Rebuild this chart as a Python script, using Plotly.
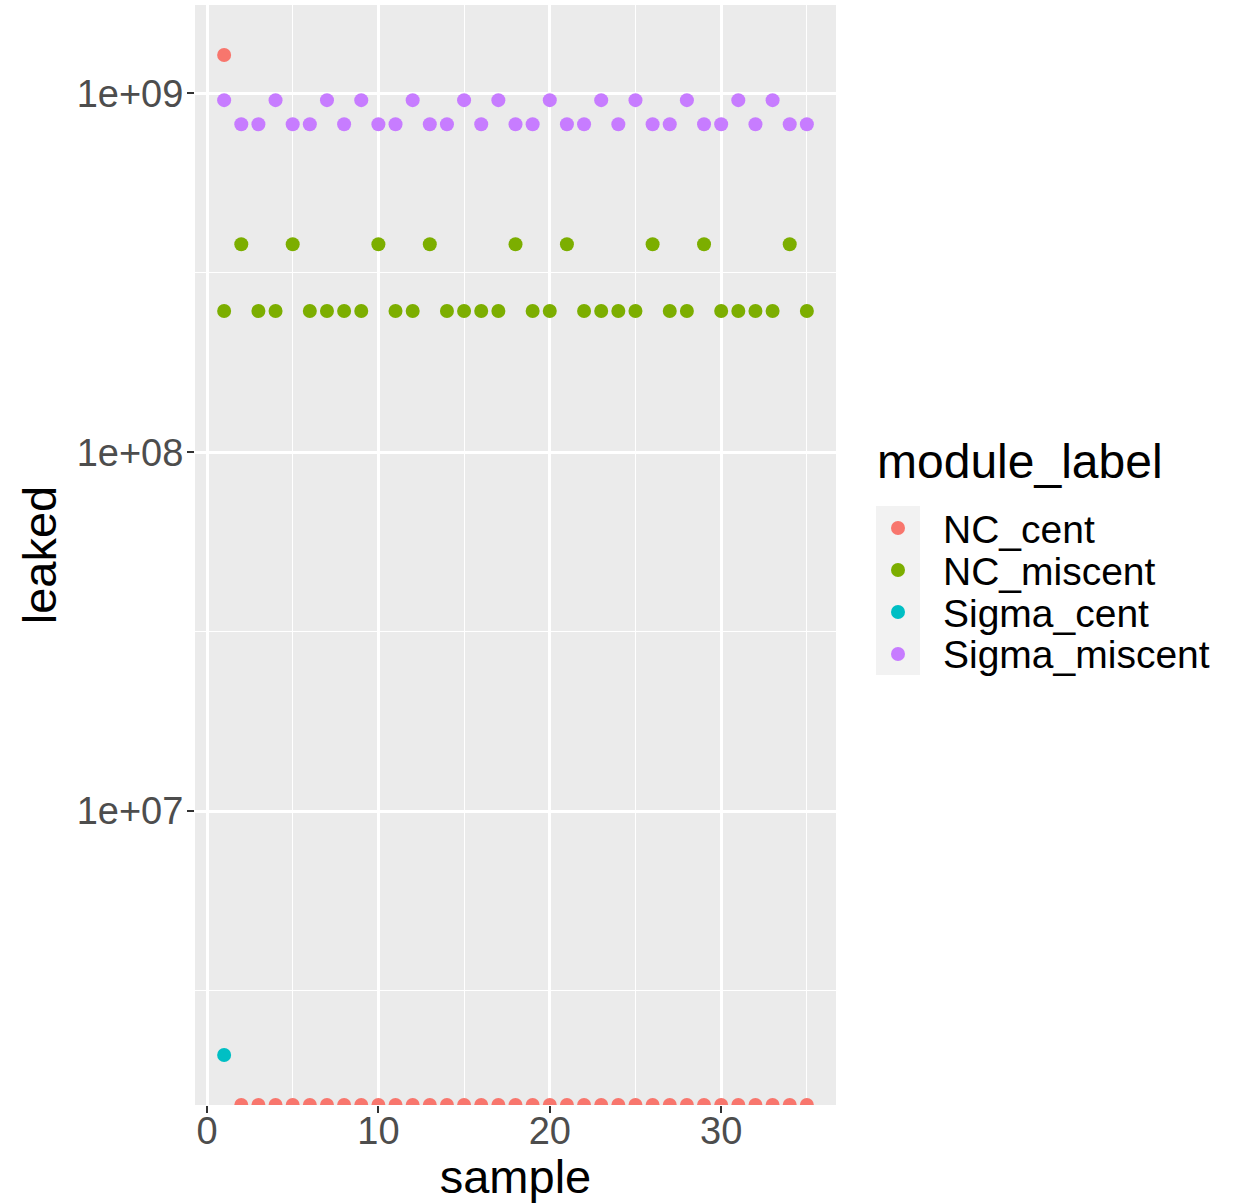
import numpy as np
import plotly.graph_objects as go

# ---------------- data ----------------
samples = list(range(1, 36))
series_names = ["NC_cent", "NC_miscent", "Sigma_cent", "Sigma_miscent"]
series_colors = ["#F8766D", "#7CAE00", "#00BFC4", "#C77CFF"]

nc_cent_x = samples
nc_cent = [1.28e9] + [0] * 34          # zeros -> -Inf on log scale (drawn at panel edge)

nc_miscent_x = samples
nc_miscent = [2.475e8, 3.80e8, 2.475e8, 2.475e8, 3.80e8, 2.475e8, 2.475e8, 2.475e8, 2.475e8, 3.80e8,
              2.475e8, 2.475e8, 3.80e8, 2.475e8, 2.475e8, 2.475e8, 2.475e8, 3.80e8, 2.475e8, 2.475e8,
              3.80e8, 2.475e8, 2.475e8, 2.475e8, 2.475e8, 3.80e8, 2.475e8, 2.475e8, 3.80e8, 2.475e8,
              2.475e8, 2.475e8, 2.475e8, 3.80e8, 2.475e8]

sigma_cent_x = [1]
sigma_cent = [2.09e6]

sigma_miscent_x = samples
sigma_miscent = [9.58e8, 8.21e8, 8.21e8, 9.58e8, 8.21e8, 8.21e8, 9.58e8, 8.21e8, 9.58e8, 8.21e8,
                 8.21e8, 9.58e8, 8.21e8, 8.21e8, 9.58e8, 8.21e8, 9.58e8, 8.21e8, 8.21e8, 9.58e8,
                 8.21e8, 8.21e8, 9.58e8, 8.21e8, 9.58e8, 8.21e8, 8.21e8, 9.58e8, 8.21e8, 8.21e8,
                 9.58e8, 8.21e8, 9.58e8, 8.21e8, 8.21e8]

y_tickvals = [1e7, 1e8, 1e9]
y_ticktext = ["1e+07", "1e+08", "1e+09"]
x_tickvals = [0, 10, 20, 30]

xs = [nc_cent_x, nc_miscent_x, sigma_cent_x, sigma_miscent_x]
ys = [nc_cent, nc_miscent, sigma_cent, sigma_miscent]

# ---------------- scales (ggplot-like 5% expansion) ----------------
all_x = [v for s in xs for v in s]
x_lo, x_hi = min(all_x), max(all_x)
xr = x_hi - x_lo
x_range = [x_lo - 0.05 * xr, x_hi + 0.05 * xr]

pos = [v for s in ys for v in s if v > 0]
l_lo, l_hi = np.log10(min(pos)), np.log10(max(pos))
lr = l_hi - l_lo
y_range = [l_lo - 0.05 * lr, l_hi + 0.05 * lr]
y_floor = 10 ** y_range[0]   # where -Inf values are squished (like ggplot)

# minor breaks midway between majors in log space
y_minor = [10 ** (np.log10(v) - 0.5) for v in y_tickvals] + [10 ** (np.log10(y_tickvals[-1]) + 0.5)]
x_minor = [v + 5 for v in x_tickvals] + [x_tickvals[0] - 5]

FONT = "Liberation Sans, Arial, sans-serif"

fig = go.Figure()
for name, col, x, y in zip(series_names, series_colors, xs, ys):
    yy = [v if v > 0 else y_floor for v in y]
    fig.add_trace(go.Scatter(
        x=x, y=yy, mode="markers", name=name, showlegend=False,
        marker=dict(color=col, size=14, line=dict(width=0)),
        cliponaxis=True,
    ))

# ---------------- layout ----------------
W, H = 1236, 1203
ML, MR, MT, MB = 195, 400, 5, 98
PW, PH = W - ML - MR, H - MT - MB


def px(xpix):
    return (xpix - ML) / PW


def py(ypix):
    return (H - MB - ypix) / PH


fig.update_layout(
    width=W, height=H,
    margin=dict(l=ML, r=MR, t=MT, b=MB, pad=0),
    paper_bgcolor="white",
    plot_bgcolor="#EBEBEB",
    font=dict(family=FONT, color="black"),
    showlegend=False,
)

fig.update_xaxes(
    range=x_range, tickmode="array", tickvals=x_tickvals,
    ticks="outside", ticklen=7, tickwidth=2, tickcolor="#333333",
    tickfont=dict(size=38, color="#4D4D4D", family=FONT),
    ticklabelstandoff=-15,
    showgrid=True, gridcolor="white", gridwidth=2.5, zeroline=False,
    showline=False,
    minor=dict(tickmode="array", tickvals=x_minor, showgrid=True,
               gridcolor="white", gridwidth=1.2, ticklen=0),
    title=dict(text="sample", font=dict(size=47, color="black", family=FONT), standoff=5),
)
fig.update_yaxes(
    type="log", range=y_range, tickmode="array", tickvals=y_tickvals, ticktext=y_ticktext,
    ticks="outside", ticklen=7, tickwidth=2, tickcolor="#333333",
    tickfont=dict(size=38, color="#4D4D4D", family=FONT),
    ticklabelstandoff=-4,
    showgrid=True, gridcolor="white", gridwidth=2.5, zeroline=False,
    showline=False,
    minor=dict(tickmode="array", tickvals=y_minor, showgrid=True,
               gridcolor="white", gridwidth=1.2, ticklen=0),
    title=dict(text="leaked", font=dict(size=47, color="black", family=FONT), standoff=5),
)

# ---------------- manual ggplot-style legend ----------------
shapes = [dict(type="rect", xref="paper", yref="paper",
               x0=px(876), x1=px(920), y0=py(675), y1=py(506),
               fillcolor="#F2F2F2", line=dict(width=0), layer="below")]
annotations = [dict(text="module_label", xref="paper", yref="paper",
                    x=px(875), y=py(461), xanchor="left", yanchor="middle",
                    showarrow=False, font=dict(size=48, color="black", family=FONT))]
row_y = [528, 570, 612, 654]
for name, col, ry in zip(series_names, series_colors, row_y):
    shapes.append(dict(type="circle", xref="paper", yref="paper",
                       xsizemode="pixel", ysizemode="pixel",
                       xanchor=px(898), yanchor=py(ry),
                       x0=-7, x1=7, y0=-7, y1=7,
                       fillcolor=col, line=dict(width=0)))
    annotations.append(dict(text=name, xref="paper", yref="paper",
                            x=px(941), y=py(ry + 1), xanchor="left", yanchor="middle",
                            showarrow=False, font=dict(size=39, color="black", family=FONT)))

fig.update_layout(shapes=shapes, annotations=annotations)

fig.write_html("out.html")
